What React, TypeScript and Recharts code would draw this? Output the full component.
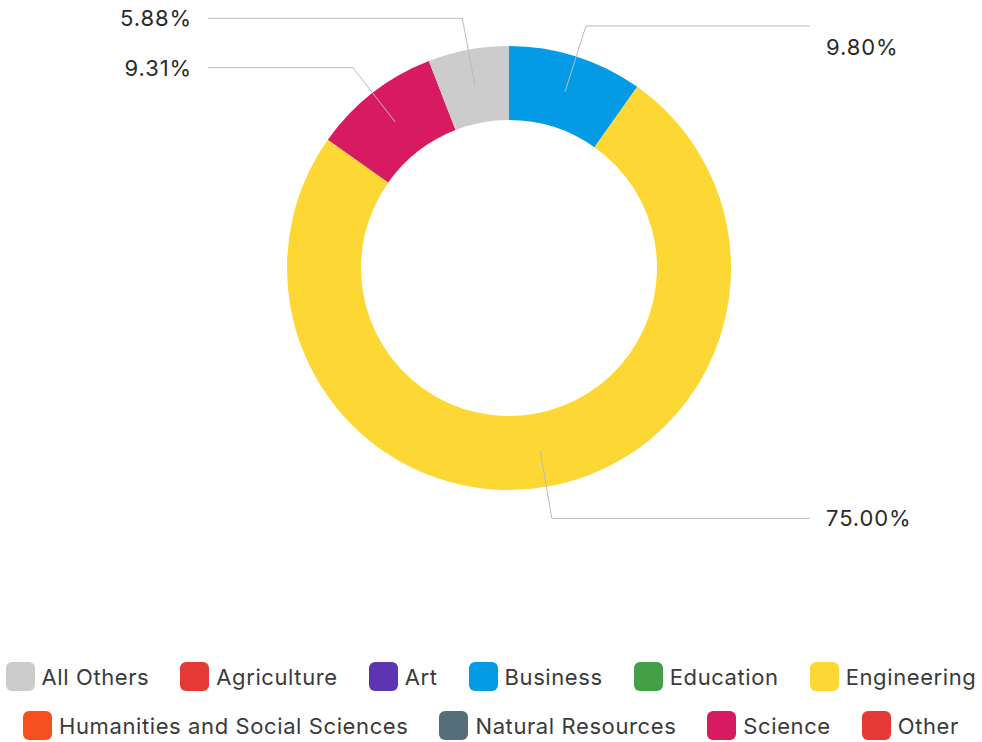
import { PieChart, Pie, Cell, Legend } from 'recharts';

const sliceNames = ['Business', 'Engineering', 'Science', 'All Others'];
const sliceValues = [9.8, 75.0, 9.31, 5.88];

const legendNames = [
  'All Others',
  'Agriculture',
  'Art',
  'Business',
  'Education',
  'Engineering',
  'Humanities and Social Sciences',
  'Natural Resources',
  'Science',
  'Other',
];

const COLORS: Record<string, string> = {
  'All Others': '#cccccc',
  Agriculture: '#e53935',
  Art: '#5e35b1',
  Business: '#039be5',
  Education: '#43a047',
  Engineering: '#fdd835',
  'Humanities and Social Sciences': '#f4511e',
  'Natural Resources': '#546e7a',
  Science: '#d81b60',
  Other: '#e53935',
};

const FONT = 'Inter, "Noto Sans", sans-serif';
const RADIAN = Math.PI / 180;

const data = sliceNames.map((name, i) => ({ name, value: sliceValues[i] }));

function renderLabel(props: any) {
  const { cx, cy, midAngle, innerRadius, outerRadius, value, index } = props;
  const mid = (innerRadius + outerRadius) / 2;
  const elbowR = outerRadius + 32;
  const cos = Math.cos(-midAngle * RADIAN);
  const sin = Math.sin(-midAngle * RADIAN);
  const sx = cx + mid * cos;
  const sy = cy + mid * sin;
  const ex = cx + elbowR * cos;
  const ey = cy + elbowR * sin;
  const right = cos >= 0;
  const endX = right ? cx + 301 : cx - 301;
  // first label sits a little below its leader, as in the original
  const textY = index === 0 ? ey + 21 : ey;
  return (
    <g key={`lbl-${index}`}>
      <polyline
        points={`${sx},${sy} ${ex},${ey} ${endX},${ey}`}
        fill="none"
        stroke="#bbbbbb"
        strokeWidth={1}
      />
      <text
        x={right ? endX + 16 : endX - 16}
        y={textY}
        textAnchor={right ? 'start' : 'end'}
        dominantBaseline="central"
        fontFamily={FONT}
        fontSize={22}
        letterSpacing={0.9}
        fill="#2a2a2a"
      >
        {`${value.toFixed(2)}%`}
      </text>
    </g>
  );
}

function LegendContent() {
  return (
    <div
      style={{
        display: 'flex',
        flexWrap: 'wrap',
        justifyContent: 'center',
        columnGap: 31,
        rowGap: 20,
        fontFamily: FONT,
        fontSize: 22,
        letterSpacing: 0.6,
        color: '#3a3a3a',
      }}
    >
      {legendNames.map((name) => (
        <div key={name} style={{ display: 'flex', alignItems: 'center', gap: 7 }}>
          <span
            style={{
              width: 29,
              height: 29,
              borderRadius: 6,
              backgroundColor: COLORS[name],
              display: 'inline-block',
            }}
          />
          <span>{name}</span>
        </div>
      ))}
    </div>
  );
}

export default function App() {
  return (
    <div style={{ position: 'absolute', left: 0, top: 0, background: '#ffffff' }}>
      <PieChart width={982} height={742} margin={{ top: 0, right: 0, bottom: 0, left: 0 }}>
        <Pie
          data={data}
          dataKey="value"
          nameKey="name"
          cx={509}
          cy={268}
          innerRadius={148}
          outerRadius={222}
          startAngle={90}
          endAngle={-270}
          stroke="none"
          label={renderLabel}
          labelLine={false}
          isAnimationActive={false}
        >
          {data.map((d) => (
            <Cell key={d.name} fill={COLORS[d.name]} />
          ))}
        </Pie>
        <Legend
          content={LegendContent}
          wrapperStyle={{ left: 0, top: 662, width: 982 }}
        />
      </PieChart>
    </div>
  );
}
